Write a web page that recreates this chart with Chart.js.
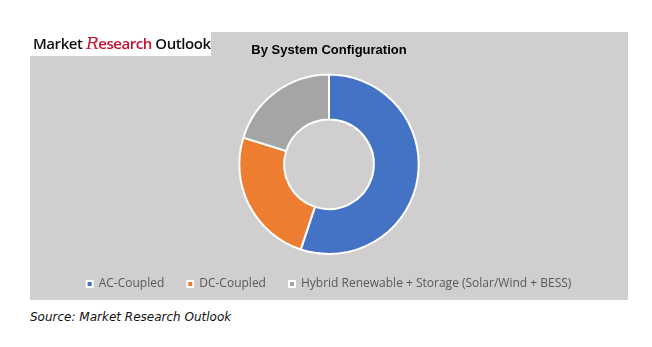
<!DOCTYPE html>
<html>
<head>
<meta charset="utf-8">
<script src="https://cdn.jsdelivr.net/npm/chart.js@4"></script>
<style>
  html, body { margin: 0; padding: 0; background: #fff; }
  body { width: 652px; height: 347px; position: relative; overflow: hidden; }
  #panel { position: absolute; left: 30px; top: 32px; width: 598px; height: 268px; background: #d0cece; }
  #logo {
    position: absolute; left: 30px; top: 32px; width: 181px; height: 24px; background: #fff;
    font-family: "Open Sans", sans-serif; font-weight: 600; font-size: 15px; line-height: 24px;
    letter-spacing: -0.45px; white-space: nowrap; color: #111;
  }
  #logo span.logo-inner { position: absolute; left: 3px; top: -1px; }
  #logo .red { color: #c8102e; }
  #logo .script { font-family: "DejaVu Serif", serif; font-style: italic; font-weight: 400; font-size: 17px; }
  #source {
    position: absolute; left: 30px; top: 310px;
    font-family: "DejaVu Sans", Verdana, sans-serif; font-style: italic; font-size: 12px; color: #111;
  }
</style>
</head>
<body>
<div id="panel"><canvas id="myChart" width="598" height="268"></canvas></div>
<div id="logo"><span class="logo-inner">Market <span class="red"><span class="script">R</span>esearch</span> Outlook</span></div>
<div id="source">Source: Market Research Outlook</div>
<script>
  var labels = [
    'AC-Coupled',
    'DC-Coupled',
    'Hybrid Renewable + Storage (Solar/Wind + BESS)',
  ];
  var shares = [55.1, 24.7, 20.2];
  var colors = ['#4472c4', '#ed7d31', '#a5a5a5'];

  var ctx = 'myChart';
  var myChart = new Chart(ctx, {
    type: 'doughnut',
    data: {
      labels: labels,
      datasets: [
        {
          data: shares,
          backgroundColor: colors,
          borderColor: '#ffffff',
          borderWidth: 2,
        },
      ],
    },
    options: {
      responsive: false,
      maintainAspectRatio: false,
      devicePixelRatio: 1,
      animation: false,
      cutout: '50%',
      layout: {
        padding: { top: 0, bottom: 0, left: 0, right: 0 },
      },
      plugins: {
        title: {
          display: true,
          text: 'By System Configuration',
          color: '#000',
          font: { family: 'Liberation Sans, Arial', size: 13, weight: 'bold' },
          padding: { top: 11, bottom: 15 },
        },
        legend: {
          position: 'bottom',
          labels: {
            color: '#595959',
            font: { family: 'Open Sans', size: 12 },
            boxWidth: 6,
            boxHeight: 6,
            padding: 23,
          },
        },
        tooltip: { enabled: false },
      },
    },
  });
</script>
</body>
</html>
